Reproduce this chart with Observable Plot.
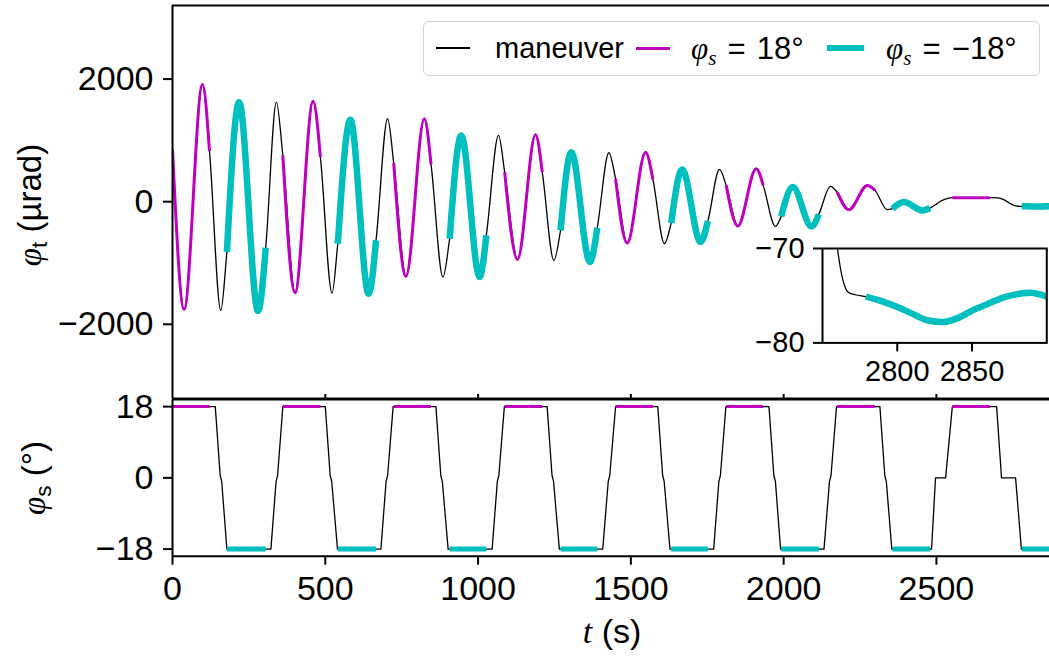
<!DOCTYPE html>
<html><head><meta charset="utf-8">
<script src="https://cdn.jsdelivr.net/npm/d3@7"></script>
<script src="https://cdn.jsdelivr.net/npm/@observablehq/plot@0.6"></script>
<style>
html,body{margin:0;padding:0;background:#fff;overflow:hidden;}
#fig{position:relative;width:1049px;height:660px;overflow:hidden;background:#fff;font-family:"Liberation Sans",sans-serif;color:#000;}
#fig svg{position:absolute;}
.lbl{position:absolute;white-space:nowrap;line-height:1;}
.math{font-family:"Liberation Serif",serif;font-style:italic;}
.sub{font-size:0.68em;position:relative;top:0.28em;}
#legend{position:absolute;left:423px;top:21px;width:615px;height:53px;border:1.5px solid #d0d0d0;border-radius:6px;background:rgba(255,255,255,0.85);}
.lline{position:absolute;}
.ltxt{position:absolute;white-space:nowrap;font-size:29px;line-height:1;transform:translateY(-50%);}
.lm{font-size:31px;}
.eq{margin:0 0.36em;}
</style></head><body><div id="fig"></div>
<script>
// ---- data ----
// top panel: tilt angle phi_t (µrad) vs time t (s)
const tTop = [0,38,98,121,158,178,218,280,305,340,361,401,460,484,522,541,582,642,666,704,724,764,824,846,885,907,945,1005,1027,1067,1087,1129,1188,1210,1248,1270,1305,1366,1390,1428,1450,1488,1548,1572,1610,1632,1668,1728,1752,1790,1812,1850,1910,1933,1973,1992,2030,2091,2115,2153,2175,2214,2274,2299,2339,2356,2394,2454,2479,2519,2552,2675,2700,2720,2740,2755,2760,2767,2772,2779,2790,2800,2810,2820,2830,2840,2851,2860,2873,2889,2900];
const phiTop = [850,-1760,1912,825,-1772,-821,1624,-1783,-750,1624,755,-1484,1640,727,-1490,-685,1336,-1500,-631,1353,629,-1218,1353,608,-1229,-603,1081,-1229,-549,1081,483,-942,1090,483,-957,-468,808,-984,-425,798,375,-675,808,363,-685,-349,526,-658,-316,526,266,-398,538,266,-403,-240,238,-403,-207,249,157,-130,266,184,-130,-114,-7,-142,-104,21,65,65,62,35,-25,-62,-70,-74.6,-74.9,-75.1,-75.6,-76.2,-76.9,-77.6,-77.8,-77.4,-76.5,-75.9,-75.1,-74.7,-75.1];
// time spans where phi_s = +18° (magenta) and -18° (cyan)
const magentaSpans = [[0,121],[361,484],[724,846],[1087,1210],[1450,1572],[1812,1933],[2175,2299],[2552,2675]];
const cyanSpans = [[178,305],[541,666],[907,1027],[1270,1390],[1632,1752],[1992,2115],[2356,2479],[2779,2900]];
// bottom panel: phi_s (°) vs t (s), corner points
const tS = [0,140,156,161,178, 322,339,344,361, 500,516,521,540, 682,699,704,722, 862,878,883,902, 1046,1063,1068,1086, 1226,1242,1247,1266, 1408,1426,1431,1450, 1588,1604,1609,1628, 1771,1788,1793,1811, 1952,1968,1973,1990, 2132,2150,2155,2173, 2315,2331,2336,2354, 2484,2497,2530,2552, 2697,2713,2759,2778, 2900];
const phiS = [18,18,0.6,-0.9,-18, -18,-0.9,0.6,18, 18,0.6,-0.9,-18, -18,-0.9,0.6,18, 18,0.6,-0.9,-18, -18,-0.9,0.6,18, 18,0.6,-0.9,-18, -18,-0.9,0.6,18, 18,0.6,-0.9,-18, -18,-0.9,0.6,18, 18,0.6,-0.9,-18, -18,-0.9,0.6,18, 18,0.6,-0.9,-18, -18,0,0,18, 18,0,0,-18, -18];
const phiSHigh = 18, phiSLow = -18;
// ticks
const xTicks = [0,500,1000,1500,2000,2500];
const topYTicks = [-2000,0,2000];
const botYTicks = [-18,0,18];
const insetXTicks = [2800,2850];
const insetYTicks = [-80,-70];
// domains
const xDomain = [0,2870];
const topYDomain = [-3210,3200];
const botYDomain = [-19.8,19.8];
const insetXDomain = [2750,2900];
const insetYDomain = [-80,-70];

// ---- build tables ----
const MAG = "#bf00bf", CYN = "#00bfbf";
const topRows = tTop.map((t,i)=>({t, v: phiTop[i]}));
function spanRows(spans){
  const out=[];
  spans.forEach(([a,b],k)=>{ topRows.forEach(r=>{ if(r.t>=a && r.t<=b) out.push({t:r.t, v:r.v, seg:k}); }); });
  return out;
}
const magTop = spanRows(magentaSpans), cynTop = spanRows(cyanSpans);
const botRows = tS.map((t,i)=>({t, v: phiS[i]}));
const magBot = magentaSpans.flatMap(([a,b],k)=>[{t:a,v:phiSHigh,seg:k},{t:b,v:phiSHigh,seg:k}]);
const cynBot = cyanSpans.flatMap(([a,b],k)=>[{t:a,v:phiSLow,seg:k},{t:b,v:phiSLow,seg:k}]);
const fmt = d => d < 0 ? "\u2212" + Math.abs(d) : String(d);
const style = {fontFamily:'"Liberation Sans", sans-serif', background:"transparent", overflow:"visible", color:"black"};
const W = 1049;

const fig = document.getElementById("fig");
function place(svg, left, top){ svg.style.left = left+"px"; svg.style.top = top+"px"; fig.appendChild(svg); }

// top panel
const topPlot = Plot.plot({
  width: W, height: 398, marginLeft: 172, marginRight: 0, marginTop: 5, marginBottom: 0,
  x: {domain: xDomain, axis: null}, y: {domain: topYDomain, axis: null}, style,
  marks: [
    Plot.line(topRows, {x:"t", y:"v", stroke:"black", strokeWidth:1.3, curve:"monotone-x", clip:true}),
    Plot.line(magTop, {x:"t", y:"v", z:"seg", stroke:MAG, strokeWidth:3, curve:"monotone-x", strokeLinecap:"butt", clip:true}),
    Plot.line(cynTop, {x:"t", y:"v", z:"seg", stroke:CYN, strokeWidth:6.5, curve:"monotone-x", strokeLinecap:"butt", clip:true}),
    Plot.ruleX([xDomain[0]], {strokeWidth:2}),
    Plot.ruleY([topYDomain[1]], {strokeWidth:2}),
    Plot.ruleY([topYDomain[0]], {strokeWidth:2}),
    Plot.ruleX(xTicks.slice(1), {strokeWidth:2, insetTop:389}),
    Plot.axisY(topYTicks, {anchor:"left", tickSize:9, tickPadding:10, fontSize:34, strokeWidth:2, tickFormat:fmt, label:null})
  ]
});
place(topPlot, 0, 0);

// bottom panel
const botPlot = Plot.plot({
  width: W, height: 262, marginLeft: 172, marginRight: 0, marginTop: 1, marginBottom: 104.3,
  x: {domain: xDomain, axis: null}, y: {domain: botYDomain, axis: null}, style,
  marks: [
    Plot.line(botRows, {x:"t", y:"v", stroke:"black", strokeWidth:1.3, clip:true}),
    Plot.line(magBot, {x:"t", y:"v", z:"seg", stroke:MAG, strokeWidth:3, strokeLinecap:"butt", clip:true}),
    Plot.line(cynBot, {x:"t", y:"v", z:"seg", stroke:CYN, strokeWidth:5, strokeLinecap:"butt", clip:true}),
    Plot.ruleX([xDomain[0]], {strokeWidth:2}),
    Plot.ruleY([botYDomain[1]], {strokeWidth:2}),
    Plot.ruleY([botYDomain[0]], {strokeWidth:2}),
    Plot.axisY(botYTicks, {anchor:"left", tickSize:9, tickPadding:10, fontSize:34, strokeWidth:2, tickFormat:fmt, label:null}),
    Plot.axisX(xTicks, {anchor:"bottom", tickSize:9, tickPadding:11, fontSize:34, strokeWidth:2, tickFormat:fmt, label:null})
  ]
});
place(botPlot, 0, 398);

// inset
const insetPlot = Plot.plot({
  width: 307.3, height: 150, marginLeft: 80, marginRight: 3, marginTop: 5, marginBottom: 50.6,
  x: {domain: insetXDomain, axis: null}, y: {domain: insetYDomain, axis: null}, style,
  marks: [
    Plot.frame({fill:"white", stroke:null}),
    Plot.line(topRows, {x:"t", y:"v", stroke:"black", strokeWidth:1.3, curve:"monotone-x", clip:true}),
    Plot.line(magTop, {x:"t", y:"v", z:"seg", stroke:MAG, strokeWidth:3, curve:"monotone-x", strokeLinecap:"butt", clip:true}),
    Plot.line(cynTop, {x:"t", y:"v", z:"seg", stroke:CYN, strokeWidth:6.5, curve:"monotone-x", strokeLinecap:"butt", clip:true}),
    Plot.frame({stroke:"black", strokeWidth:2}),
    Plot.axisY(insetYTicks, {anchor:"left", tickSize:9, tickPadding:9, fontSize:29, strokeWidth:2, tickFormat:fmt, label:null}),
    Plot.axisX(insetXTicks, {anchor:"bottom", tickSize:9, tickPadding:9, fontSize:29, strokeWidth:2, tickFormat:fmt, label:null})
  ]
});
place(insetPlot, 741.7, 243.3);

// axis labels (HTML text)
function label(html, cx, cy, size, rot){
  const d = document.createElement("div");
  d.className = "lbl"; d.innerHTML = html;
  d.style.fontSize = size+"px";
  d.style.left = cx+"px"; d.style.top = cy+"px";
  d.style.transform = "translate(-50%,-50%)" + (rot ? " rotate(-90deg)" : "");
  fig.appendChild(d);
}
label('<span class="math">φ</span><span class="sub">t</span> (µrad)', 30, 205, 33, true);
label('<span class="math">φ</span><span class="sub">s</span> (°)', 34, 478, 33, true);
label('<span class="math">t</span> (s)', 612, 631, 34, false);

// legend
const lg = document.createElement("div"); lg.id = "legend"; fig.appendChild(lg);
function lline(x, w, h, c){ const d=document.createElement("div"); d.className="lline"; d.style.left=(x-423)+"px"; d.style.width=w+"px"; d.style.height=h+"px"; d.style.top=(26-h/2)+"px"; d.style.background=c; lg.appendChild(d); }
function ltxt(x, html, cls){ const d=document.createElement("div"); d.className="ltxt" + (cls ? " "+cls : ""); d.style.left=(x-423)+"px"; d.style.top="26px"; d.innerHTML=html; lg.appendChild(d); }
lline(435, 34, 1.3, "black");
ltxt(494, "maneuver");
lline(635, 34, 3, MAG);
ltxt(690, '<span class="math">φ</span><span class="sub math">s</span><span class="eq">=</span>18°', "lm");
lline(826, 37, 6.5, CYN);
ltxt(885, '<span class="math">φ</span><span class="sub math">s</span><span class="eq">=</span>\u221218°', "lm");
</script></body></html>
